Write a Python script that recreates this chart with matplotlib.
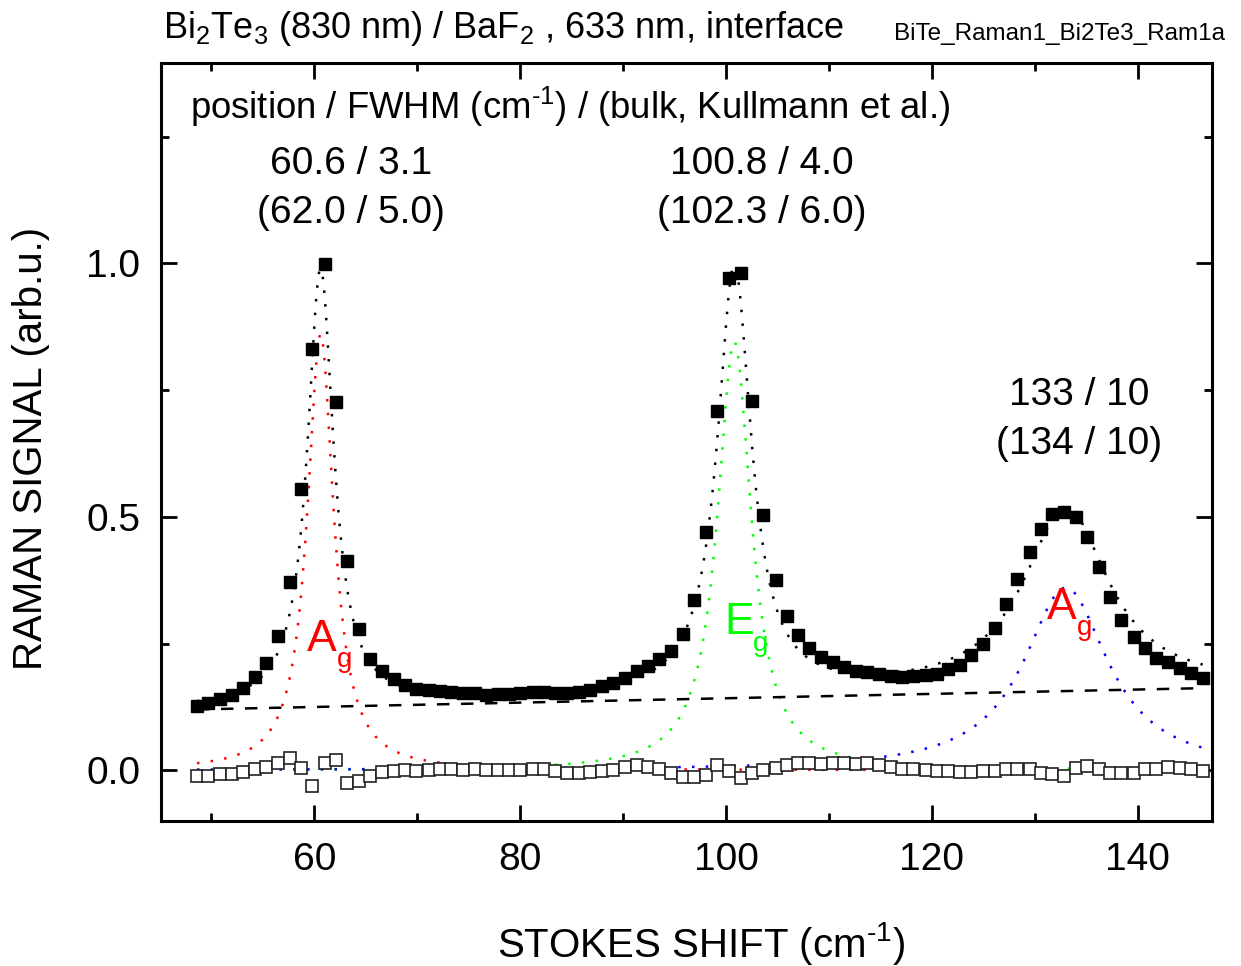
import numpy as np
import matplotlib
matplotlib.use('Agg')
import matplotlib.pyplot as plt
from matplotlib.ticker import MultipleLocator, FormatStrFormatter

plt.rcParams['font.family'] = ['Liberation Sans', 'DejaVu Sans']
plt.rcParams['mathtext.fontset'] = 'custom'
plt.rcParams['mathtext.rm'] = 'Liberation Sans'
plt.rcParams['mathtext.it'] = 'Liberation Sans:italic'
plt.rcParams['mathtext.bf'] = 'Liberation Sans:bold'

# Stokes shift of the measured spectrum (cm^-1)
shift = [48.6, 49.7, 50.8, 52.0, 53.1, 54.2, 55.3, 56.5, 57.6, 58.7,
         59.8, 61.0, 62.1, 63.2, 64.3, 65.4, 66.6, 67.7, 68.8, 69.9,
         71.1, 72.2, 73.3, 74.4, 75.6, 76.7, 77.8, 78.9, 80.0, 81.2,
         82.3, 83.4, 84.5, 85.7, 86.8, 87.9, 89.0, 90.2, 91.3, 92.4,
         93.5, 94.6, 95.8, 96.9, 98.0, 99.1, 100.3, 101.4, 102.5, 103.6,
         104.8, 105.9, 107.0, 108.1, 109.2, 110.4, 111.5, 112.6, 113.7, 114.9,
         116.0, 117.1, 118.2, 119.4, 120.5, 121.6, 122.7, 123.8, 125.0, 126.1,
         127.2, 128.3, 129.5, 130.6, 131.7, 132.8, 134.0, 135.1, 136.2, 137.3,
         138.4, 139.6, 140.7, 141.8, 142.9, 144.1, 145.2, 146.3]

# normalised Raman signal
signal = [0.127, 0.132, 0.140, 0.148, 0.163, 0.184, 0.212, 0.265, 0.372, 0.554,
          0.831, 0.999, 0.727, 0.413, 0.278, 0.220, 0.195, 0.180, 0.168, 0.161,
          0.158, 0.156, 0.155, 0.152, 0.152, 0.149, 0.150, 0.151, 0.152, 0.154,
          0.154, 0.153, 0.152, 0.155, 0.159, 0.166, 0.173, 0.183, 0.195, 0.206,
          0.219, 0.235, 0.268, 0.336, 0.470, 0.709, 0.971, 0.980, 0.728, 0.504,
          0.375, 0.304, 0.266, 0.242, 0.223, 0.213, 0.203, 0.196, 0.194, 0.190,
          0.185, 0.184, 0.185, 0.188, 0.190, 0.199, 0.208, 0.227, 0.249, 0.281,
          0.327, 0.377, 0.431, 0.475, 0.505, 0.509, 0.499, 0.461, 0.400, 0.341,
          0.297, 0.262, 0.241, 0.222, 0.213, 0.201, 0.192, 0.183]

# residual (data - fit)
residual = [-0.011, -0.011, -0.007, -0.007, -0.003, 0.002, 0.007, 0.014, 0.025, 0.005,
            -0.031, 0.014, 0.020, -0.026, -0.021, -0.011, -0.003, -0.002, 0.000, -0.001,
            0.001, 0.002, 0.003, 0.000, 0.002, 0.000, 0.000, 0.000, 0.000, 0.003,
            0.002, -0.002, -0.005, -0.005, -0.003, -0.001, 0.001, 0.007, 0.010, 0.006,
            0.003, -0.006, -0.014, -0.014, -0.009, 0.010, -0.001, -0.016, -0.005, 0.001,
            0.005, 0.010, 0.014, 0.014, 0.012, 0.014, 0.015, 0.013, 0.014, 0.011,
            0.006, 0.002, 0.002, 0.001, -0.001, -0.001, -0.003, -0.003, -0.002, -0.002,
            0.002, 0.003, 0.002, -0.005, -0.008, -0.012, 0.005, 0.009, 0.002, -0.006,
            -0.006, -0.005, 0.002, 0.002, 0.006, 0.005, 0.003, -0.001]

# Lorentz fit: position, FWHM, height
peak_pos = [60.6, 100.8, 133.0]
peak_fwhm = [3.1, 4.0, 10.0]
peak_height = [0.86, 0.845, 0.36]
peak_colors = ['#ff0000', '#00ff00', '#0000ff']

# bulk values (Kullmann et al.)
bulk_pos = ['62.0', '102.3', '134']
bulk_fwhm = ['5.0', '6.0', '10']

# linear background
bg_x = [48.6, 146.3]
bg_y = [0.120, 0.162]

# phonon mode symbols
mode_names = ['A', 'E', 'A']
mode_colors = ['#ff0000', '#00ff00', '#ff0000']


def lorentz(x, x0, fwhm, h):
    hw = fwhm / 2.0
    return h * hw ** 2 / ((x - x0) ** 2 + hw ** 2)


fig = plt.figure(figsize=(12.41, 9.66), dpi=100)
ax = fig.add_axes([0.1297, 0.1501, 0.8469, 0.7847])

xf = np.linspace(bg_x[0], bg_x[1], 800)
background = np.interp(xf, bg_x, bg_y)
total = background.copy()
dots = (0, (1, 4.5))
for x0, w, h, c in zip(peak_pos, peak_fwhm, peak_height, peak_colors):
    comp = lorentz(xf, x0, w, h)
    total += comp
    ax.plot(xf, comp, color=c, lw=1.8, linestyle=dots, zorder=2)

ax.plot(bg_x, bg_y, color='black', lw=1.8, linestyle=(0, (5.0, 4.6)), zorder=2)
ax.plot(xf, total, color='black', lw=1.8, linestyle=dots, zorder=3)

ax.plot(shift, signal, linestyle='none', marker='s', ms=8.6, color='black', zorder=4)
ax.plot(shift, residual, linestyle='none', marker='s', ms=8.3, mfc='white',
        mec='#222222', mew=1.2, zorder=4)

ax.set_xlim(45.1, 147.2)
ax.set_ylim(-0.1, 1.395)

ax.xaxis.set_major_locator(MultipleLocator(20))
ax.xaxis.set_minor_locator(MultipleLocator(10))
ax.yaxis.set_major_locator(MultipleLocator(0.5))
ax.yaxis.set_minor_locator(MultipleLocator(0.25))
ax.yaxis.set_major_formatter(FormatStrFormatter('%.1f'))

ax.tick_params(which='both', direction='in', top=True, right=True, width=2.0)
ax.tick_params(which='major', length=11.5, labelsize=28, pad=15)
ax.tick_params(which='minor', length=5.8)
for sp in ax.spines.values():
    sp.set_linewidth(2.2)

ax.set_xlabel(r'STOKES SHIFT (cm$^{\text{-1}}$)', fontsize=29)
ax.xaxis.set_label_coords(0.514, -0.130)
ax.set_ylabel('RAMAN SIGNAL (arb.u.)', fontsize=29)
ax.yaxis.set_label_coords(-0.106, 0.492)

# header lines
fig.text(0.1313, 0.9607,
         r'Bi$_{\mathregular{2}}$Te$_{\mathregular{3}}$ (830 nm) / BaF$_{\mathregular{2}}$ , 633 nm, interface',
         fontsize=26, va='baseline', ha='left')
fig.text(0.987, 0.9586, 'BiTe_Raman1_Bi2Te3_Ram1a', fontsize=17.5,
         va='baseline', ha='right')

ax.text(47.9, 1.285, r'position / FWHM (cm$^{\text{-1}}$) / (bulk, Kullmann et al.)',
        fontsize=26.3, va='baseline', ha='left')

# peak annotations
label_x = [63.55, 103.5, 134.3]
label_y = [1.176, 1.176, 0.720]
for i in range(3):
    pos = ('%.1f' % peak_pos[i]) if i < 2 else '%d' % peak_pos[i]
    wid = ('%.1f' % peak_fwhm[i]) if i < 2 else '%d' % peak_fwhm[i]
    ax.text(label_x[i], label_y[i], f'{pos} / {wid}', fontsize=28,
            ha='center', va='baseline')
    ax.text(label_x[i], label_y[i] - 0.097, f'({bulk_pos[i]} / {bulk_fwhm[i]})',
            fontsize=28, ha='center', va='baseline')

# mode symbols with lowered subscript
mode_x = [59.3, 99.8, 131.2]
mode_y = [0.235, 0.268, 0.299]
for name, mx, my, c in zip(mode_names, mode_x, mode_y, mode_colors):
    ax.text(mx, my, name, fontsize=32, color=c, ha='left', va='baseline')
    ax.text(mx + 2.85, my - 0.032, 'g', fontsize=20, color=c,
            ha='left', va='baseline')

fig.savefig('out.png', dpi=100)
